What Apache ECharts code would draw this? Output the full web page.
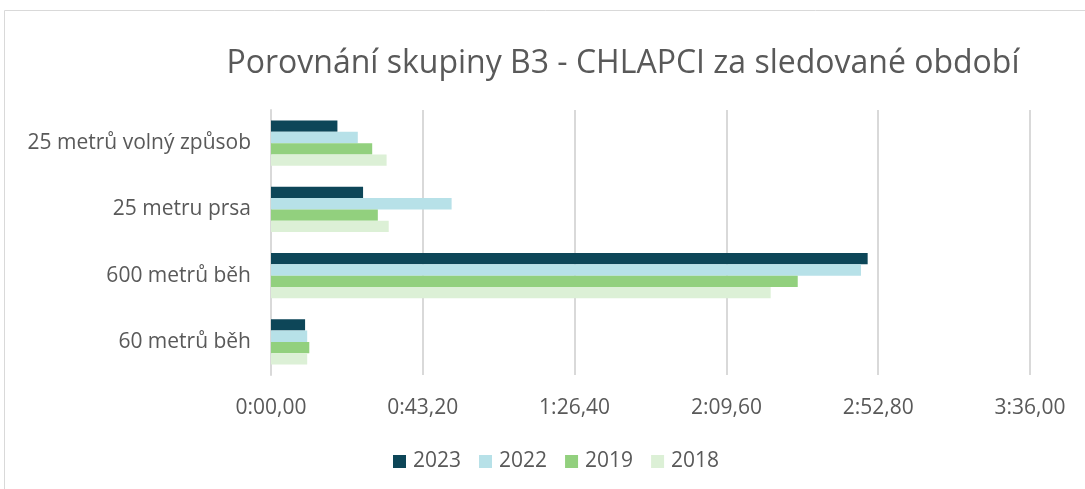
<!DOCTYPE html>
<html><head><meta charset="utf-8">
<script src="https://cdn.jsdelivr.net/npm/echarts@6/dist/echarts.min.js"></script>
<style>html,body{margin:0;padding:0;background:#fff}#c{width:1085px;height:489px}</style>
</head><body><div id="c"></div>
<script>
const categories = ['25 metrů volný způsob', '25 metru prsa', '600 metrů běh', '60 metrů běh'];
const years = ['2023', '2022', '2019', '2018'];
// times in seconds
const s2023 = [18.9, 26.2, 169.8, 9.7];
const s2022 = [24.7, 51.4, 167.9, 10.3];
const s2019 = [28.8, 30.4, 149.9, 10.9];
const s2018 = [32.9, 33.5, 142.2, 10.3];
const colors = ['#0d4658', '#b7e1e8', '#92d07e', '#dcf0d6'];
const seriesData = [s2023, s2022, s2019, s2018];

function fmt(v) {
  const cs = Math.round(v * 100);
  const m = Math.floor(cs / 6000);
  const rem = cs - m * 6000;
  const s = Math.floor(rem / 100);
  const c = rem % 100;
  return m + ':' + String(s).padStart(2, '0') + ',' + String(c).padStart(2, '0');
}

const font = '"Open Sans", "Noto Sans", sans-serif';
const chart = echarts.init(document.getElementById('c'));
chart.setOption({
  animation: false,
  graphic: [{type: 'rect', shape: {x: 4.5, y: 10.5, width: 1090, height: 490}, style: {fill: 'none', stroke: '#d9d9d9', lineWidth: 1}}],
  title: {
    text: 'Porovnání skupiny B3 - CHLAPCI za sledované období',
    left: 618, top: 43, textAlign: 'center',
    textStyle: {fontFamily: font, fontSize: 32, fontWeight: 'normal', color: '#595959'}
  },
  legend: {
    data: years, top: 446, left: 388, itemWidth: 13, itemHeight: 13, itemGap: 18,
    icon: 'rect',
    textStyle: {fontFamily: font, fontSize: 21, color: '#595959', padding: [0, 0, 0, 2]}
  },
  grid: {left: 271, right: 55, top: 110, bottom: 114, containLabel: false},
  xAxis: {
    type: 'value', min: 0, max: 216, interval: 43.2,
    axisLine: {show: false}, axisTick: {show: false},
    splitLine: {lineStyle: {color: '#d9d9d9', width: 2}},
    axisLabel: {formatter: fmt, fontFamily: font, fontSize: 21, color: '#595959', margin: 23}
  },
  yAxis: {
    type: 'category', data: categories, inverse: true,
    axisLine: {show: true, lineStyle: {color: '#d9d9d9', width: 2}}, axisTick: {show: false},
    axisLabel: {fontFamily: font, fontSize: 21, color: '#595959', margin: 20}
  },
  series: years.map((y, i) => ({
    name: y, type: 'bar', data: seriesData[i],
    barGap: '0%', barCategoryGap: '32%',
    itemStyle: {color: colors[i]}
  }))
});
</script></body></html>
